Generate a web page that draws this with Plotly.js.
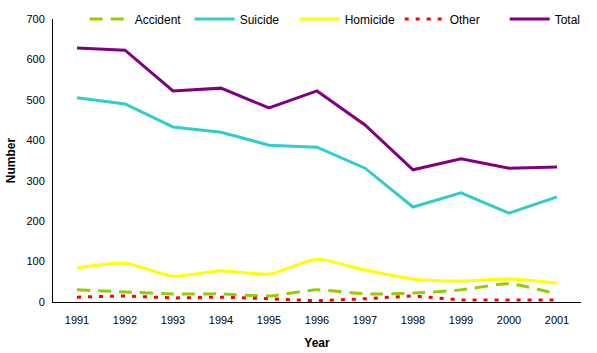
<!DOCTYPE html>
<html><head><meta charset="utf-8">
<script src="https://cdn.plot.ly/plotly-3.0.1.min.js"></script>
<style>html,body{margin:0;padding:0;background:#fff}</style>
</head><body><div id="chart" style="width:597px;height:353px"></div>
<script>
const years = ['1991','1992','1993','1994','1995','1996','1997','1998','1999','2000','2001'];
const accident = [30, 25, 20, 20, 15, 30, 20, 22, 30, 45, 20];
const suicide = [505, 490, 433, 420, 388, 383, 331, 235, 270, 220, 260];
const homicide = [84, 96, 64, 77, 69, 106, 79, 57, 52, 57, 47];
const other = [12, 15, 10, 12, 8, 3, 8, 15, 5, 5, 5];
const total = [628, 623, 522, 529, 480, 522, 438, 327, 354, 331, 334];

const traces = [
  {x: years, y: accident, name: 'Accident', type: 'scatter', mode: 'lines',
   line: {color: '#99CC00', width: 3, dash: '13px,8px', shape: 'spline', smoothing: 0.6}},
  {x: years, y: suicide, name: 'Suicide', type: 'scatter', mode: 'lines',
   line: {color: '#33CCCC', width: 3}},
  {x: years, y: homicide, name: 'Homicide', type: 'scatter', mode: 'lines',
   line: {color: '#FFFF00', width: 3, shape: 'spline', smoothing: 0.6}},
  {x: years, y: other, name: 'Other', type: 'scatter', mode: 'lines',
   line: {color: '#FF0000', width: 3, dash: '4px,7px'}},
  {x: years, y: total, name: 'Total', type: 'scatter', mode: 'lines',
   line: {color: '#800080', width: 3}}
];

const layout = {
  width: 597, height: 353,
  margin: {l: 53, r: 16, t: 19, b: 51, autoexpand: false},
  paper_bgcolor: '#fff', plot_bgcolor: '#fff',
  font: {family: 'Liberation Sans, Arial, sans-serif', size: 11, color: '#000'},
  showlegend: true,
  legend: {orientation: 'h', x: 0.06, y: 1.0, xanchor: 'left', yanchor: 'middle',
           bgcolor: 'rgba(0,0,0,0)', font: {size: 12}, entrywidth: 50, entrywidthmode: 'pixels', itemwidth: 40,
           tracegroupgap: 0},
  xaxis: {type: 'category', range: [-0.5, 10.5], showgrid: false, zeroline: false,
          showline: true, linecolor: '#000', linewidth: 1, ticks: 'outside', ticklen: 8, tickcolor: 'rgba(0,0,0,0)',
          tickfont: {size: 11}, title: {text: 'Year', font: {size: 12, weight: 'bold'}, standoff: 13}},
  yaxis: {range: [0, 700], dtick: 100, showgrid: false, zeroline: false,
          showline: true, linecolor: '#000', linewidth: 1, ticks: 'outside', ticklen: 5, tickcolor: 'rgba(0,0,0,0)',
          tickfont: {size: 11}, title: {text: 'Number', font: {size: 12, weight: 'bold'}, standoff: 8}}
};
Plotly.newPlot('chart', traces, layout, {displayModeBar: false, staticPlot: true});
</script></body></html>
